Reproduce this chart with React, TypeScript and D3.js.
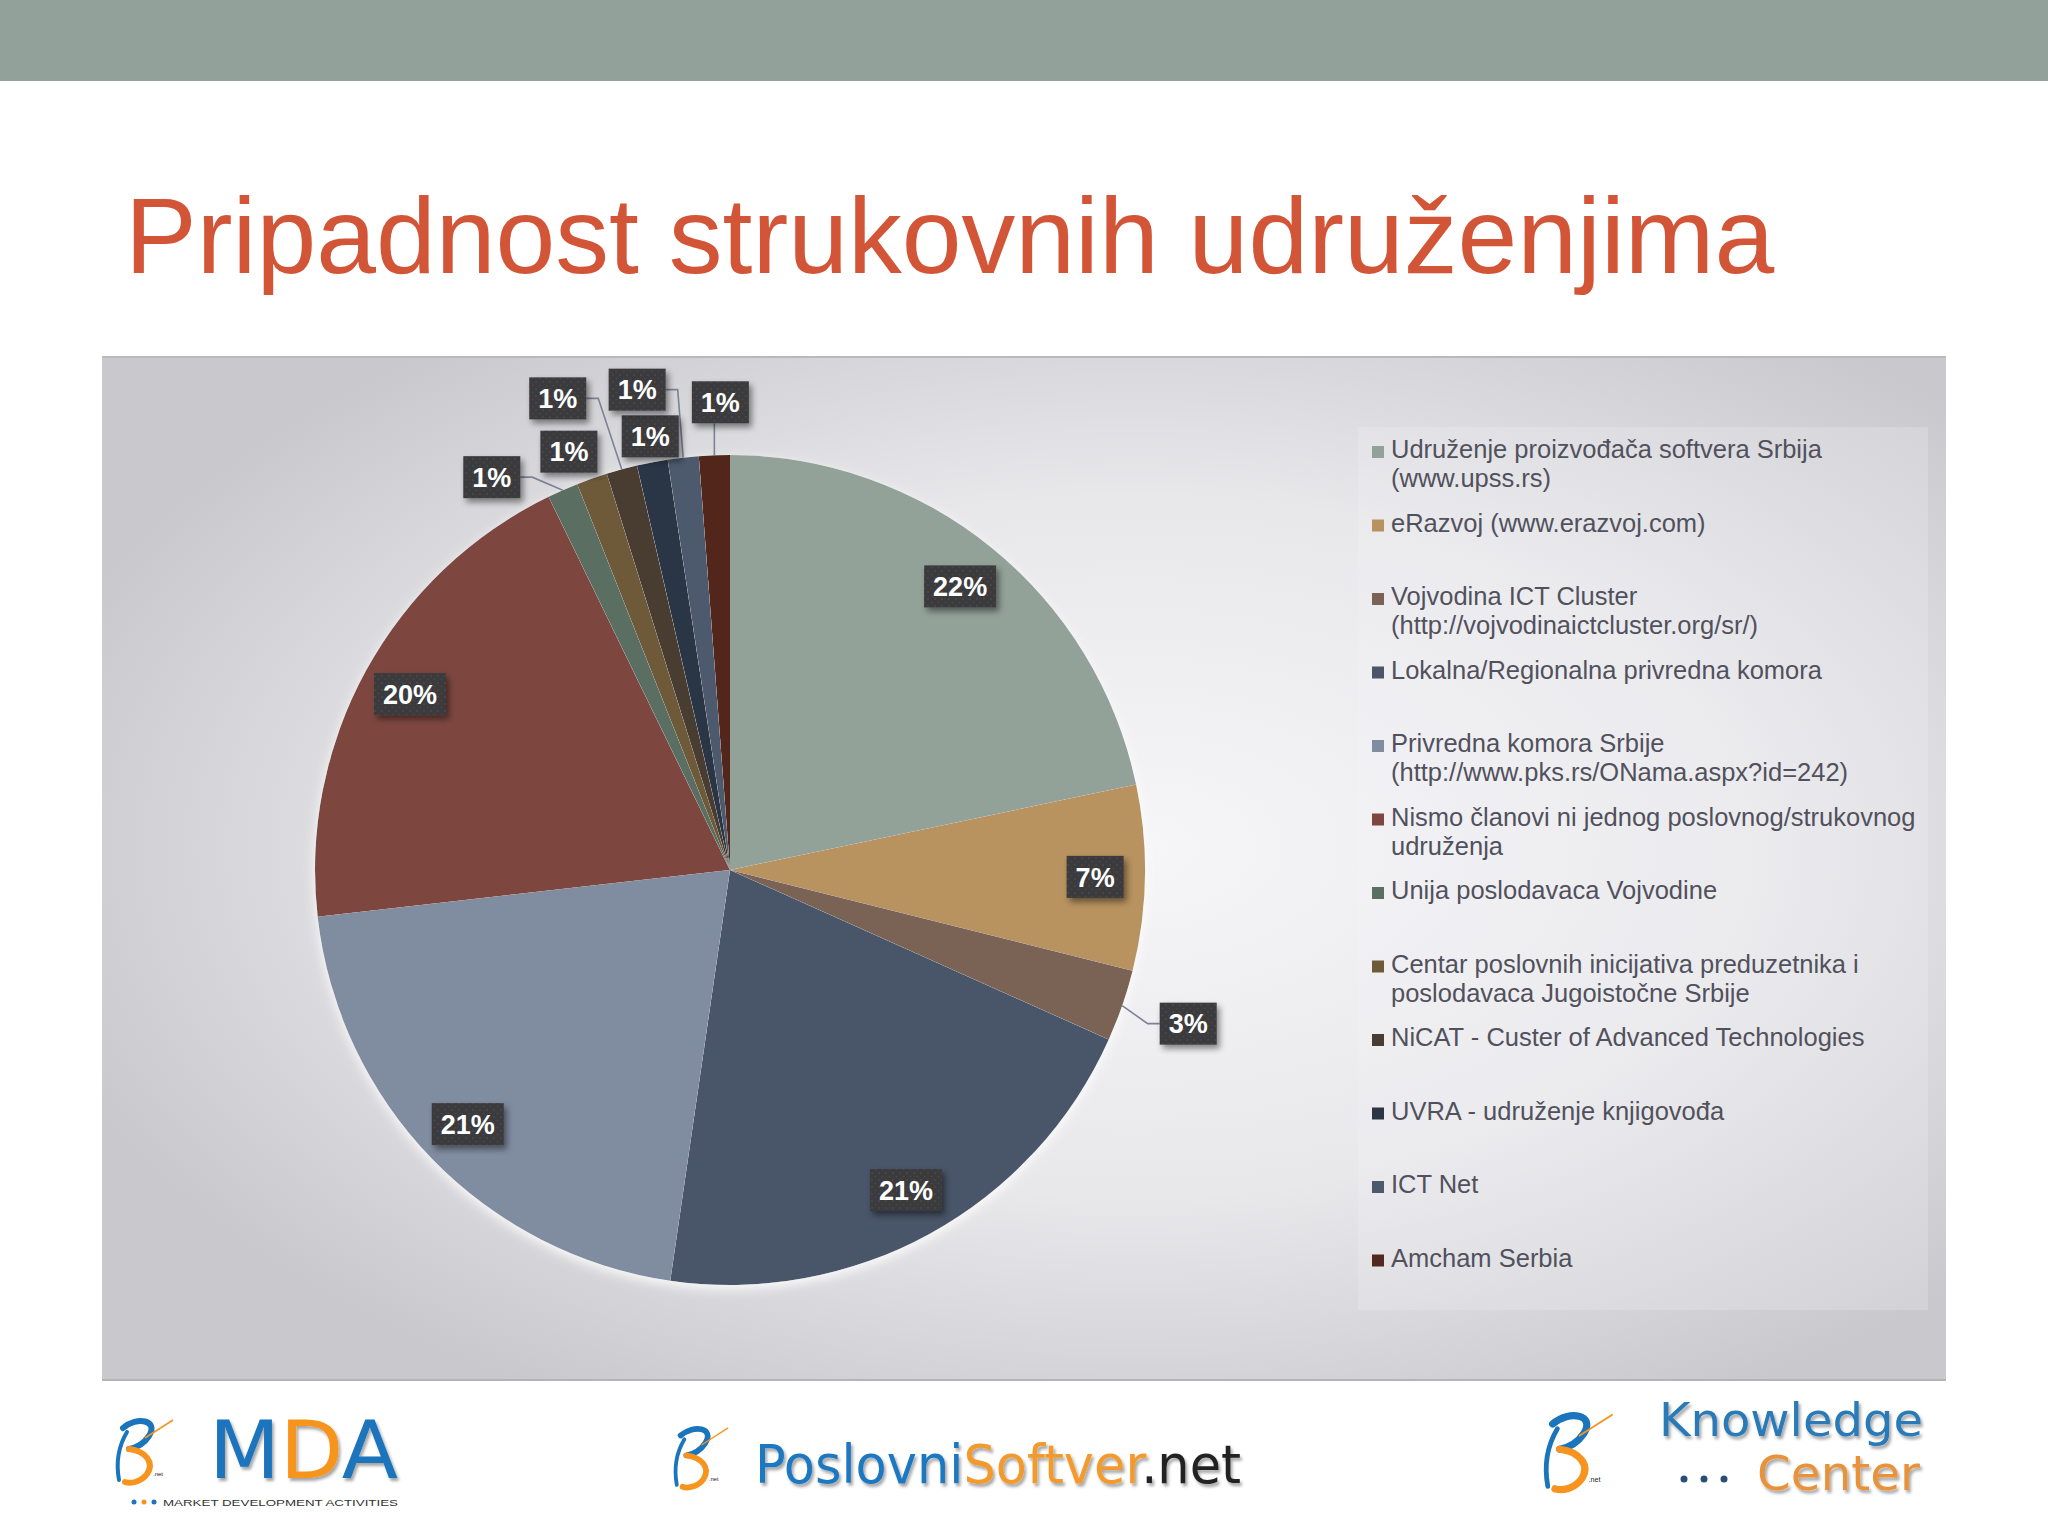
import React from "react";
import * as d3 from "d3";

const title = "Pripadnost strukovnih udruženjima";

const categories = [
  "Udruženje proizvođača softvera Srbija (www.upss.rs)",
  "eRazvoj (www.erazvoj.com)",
  "Vojvodina ICT Cluster (http://vojvodinaictcluster.org/sr/)",
  "Lokalna/Regionalna privredna komora",
  "Privredna komora Srbije (http://www.pks.rs/ONama.aspx?id=242)",
  "Nismo članovi ni jednog poslovnog/strukovnog udruženja",
  "Unija poslodavaca Vojvodine",
  "Centar poslovnih inicijativa preduzetnika i poslodavaca Jugoistočne Srbije",
  "NiCAT - Custer of Advanced Technologies",
  "UVRA - udruženje knjigovođa",
  "ICT Net",
  "Amcham Serbia",
];

const values = [21.7, 7.2, 2.8, 20.6, 20.9, 19.6, 1.2, 1.2, 1.2, 1.2, 1.2, 1.2];

const colors = [
  "#93A299", "#B8925F", "#7A6354", "#4A5569", "#808CA0", "#7D4641",
  "#5A6E62", "#6E5A38", "#483C33", "#2C3544", "#4D5A6E", "#53281F",
];

// label placement for small slices: offset of box centre from slice's outer edge point
const outsideLabelOffsets: Record<number, [number, number]> = {
  2: [66, 18],
  6: [-71, -13],
  7: [-23, -27],
  8: [-64, -71],
  9: [-2, -26],
  10: [-46, -68],
  11: [6, -53],
};

const W = 2048;
const H = 1536;
const cx = 730;
const cy = 870;
const R = 415;
const FONT = "'Liberation Sans', Arial, sans-serif";
const NARROW = "'DejaVu Sans Condensed', 'Liberation Sans Narrow', sans-serif";

let _ctx: CanvasRenderingContext2D | null = null;
function measure(text: string, font: string): number {
  if (!_ctx) {
    const c = document.createElement("canvas");
    _ctx = c.getContext("2d");
  }
  if (!_ctx) return text.length * 12;
  _ctx.font = font;
  return _ctx.measureText(text).width;
}

function wrap(text: string, maxW: number, font: string): string[] {
  const words = text.split(" ");
  const lines: string[] = [];
  let cur = "";
  for (const w of words) {
    const t = cur ? cur + " " + w : w;
    if (cur && measure(t, font) > maxW) {
      lines.push(cur);
      cur = w;
    } else cur = t;
  }
  if (cur) lines.push(cur);
  return lines;
}

function Swoosh({ x, y, s }: { x: number; y: number; s: number }) {
  return (
    <g transform={`translate(${x},${y}) scale(${s})`}>
      <path d="M8 10 C 22 -2, 44 2, 34 18 C 28 27, 20 30, 14 31" fill="none" stroke="#1B75BC" strokeWidth={6} strokeLinecap="round" />
      <path d="M14 31 C 30 33, 40 44, 32 56 C 26 64, 16 66, 10 64" fill="none" stroke="#F7941D" strokeWidth={6} strokeLinecap="round" />
      <path d="M4 62 C 0 40, 6 24, 12 14" fill="none" stroke="#1B75BC" strokeWidth={4} strokeLinecap="round" />
      <path d="M30 20 L 58 2" fill="none" stroke="#F7941D" strokeWidth={1.5} />
      <text x={38} y={58} fontSize={6} fontFamily={FONT} fill="#222">.net</text>
    </g>
  );
}

export default function App() {
  const pie = d3.pie<number>().sort(null).value((d) => d)(values);
  const arc = d3.arc<d3.PieArcDatum<number>>().innerRadius(0).outerRadius(R);
  const labelArc = d3.arc<d3.PieArcDatum<number>>().innerRadius(R * 0.88).outerRadius(R * 0.88);
  const total = d3.sum(values);

  const labelFont = `bold 27px ${FONT}`;
  const legendFont = `25.5px ${FONT}`;

  const labels = pie.map((p, i) => {
    const text = `${Math.round((p.value / total) * 100)}%`;
    const tw = measure(text, labelFont);
    const bw = tw + 18;
    const bh = 42;
    const mid = (p.startAngle + p.endAngle) / 2;
    const ex = Math.sin(mid) * R;
    const ey = -Math.cos(mid) * R;
    let lx: number, ly: number;
    let leader: string | null = null;
    const off = outsideLabelOffsets[i];
    if (off) {
      lx = ex + off[0];
      ly = ey + off[1];
      const nx = Math.max(lx - bw / 2, Math.min(ex, lx + bw / 2));
      const ny = Math.max(ly - bh / 2, Math.min(ey, ly + bh / 2));
      const dist = Math.hypot(nx - ex, ny - ey);
      if (dist > 14) {
        if (Math.abs(lx - ex) < bw / 2) {
          leader = `M${ex},${ey}L${ex},${ly + bh / 2}`;
        } else {
          const side = lx < ex ? lx + bw / 2 : lx - bw / 2;
          const elbow = lx < ex ? side + 12 : side - 12;
          leader = `M${ex},${ey}L${elbow},${ly}L${side},${ly}`;
        }
      }
    } else {
      [lx, ly] = labelArc.centroid(p);
    }
    return { text, lx, ly, bw, bh, leader };
  });

  // legend
  const legendX = 1372;
  const legendTextX = 1391;
  const legendY0 = 458;
  const legendStep = 73.5;
  const lineH = 29.4;

  return (
    <svg width={W} height={H} style={{ position: "absolute", left: 0, top: 0, background: "#fff" }} xmlns="http://www.w3.org/2000/svg">
      <defs>
        <radialGradient id="bg" cx="0.56" cy="0.48" r="0.62">
          <stop offset="0" stopColor="#f6f6f8" />
          <stop offset="0.55" stopColor="#e8e8eb" />
          <stop offset="1" stopColor="#c9c9cd" />
        </radialGradient>
        <pattern id="dots" width="7" height="7" patternUnits="userSpaceOnUse">
          <rect width="7" height="7" fill="#3b3b3d" />
          <circle cx="2" cy="2" r="0.8" fill="#4f4f52" />
          <circle cx="5.5" cy="5.5" r="0.8" fill="#4a4a4d" />
        </pattern>
        <filter id="shadow" x="-30%" y="-30%" width="160%" height="170%">
          <feDropShadow dx="3" dy="4" stdDeviation="3" floodColor="#000" floodOpacity="0.45" />
        </filter>
        <filter id="pieGlow" x="-10%" y="-10%" width="120%" height="120%">
          <feDropShadow dx="0" dy="4" stdDeviation="6" floodColor="#ffffff" floodOpacity="0.9" />
        </filter>
        <filter id="logoShadow" x="-10%" y="-10%" width="120%" height="140%">
          <feDropShadow dx="2" dy="3" stdDeviation="1.5" floodColor="#000" floodOpacity="0.35" />
        </filter>
      </defs>

      {/* top bar */}
      <rect x={0} y={0} width={W} height={81} fill="#92A29A" />

      {/* title */}
      <text x={125} y={273} fontFamily={FONT} fontSize={107.5} fill="#D35538">{title}</text>

      {/* chart area */}
      <rect x={102} y={357} width={1844} height={1023} fill="url(#bg)" />
      <rect x={1358} y={427} width={570} height={883} fill="#f7f7f9" opacity={0.22} />
      <line x1={102} x2={1946} y1={357} y2={357} stroke="#b9b9bc" strokeWidth={2} />
      <line x1={102} x2={1946} y1={1380} y2={1380} stroke="#b4b4b8" strokeWidth={2} />

      {/* pie */}
      <g transform={`translate(${cx},${cy})`}>
        <g filter="url(#pieGlow)">
          {pie.map((p, i) => (
            <path key={i} d={arc(p) || ""} fill={colors[i]} />
          ))}
        </g>
        {labels.map((l, i) =>
          l.leader ? <path key={"ld" + i} d={l.leader} fill="none" stroke="#7c8296" strokeWidth={1.6} /> : null
        )}
        {labels.map((l, i) => (
          <g key={"lb" + i}>
            <rect x={l.lx - l.bw / 2} y={l.ly - l.bh / 2} width={l.bw} height={l.bh} fill="url(#dots)" filter="url(#shadow)" />
            <text x={l.lx} y={l.ly + 9.7} textAnchor="middle" fontFamily={FONT} fontWeight="bold" fontSize={27} fill="#ffffff">
              {l.text}
            </text>
          </g>
        ))}
      </g>

      {/* legend */}
      {categories.map((c, i) => {
        const lines = wrap(c, 535, legendFont);
        const by = legendY0 + i * legendStep;
        return (
          <g key={"lg" + i}>
            <rect x={legendX} y={by - 12} width={12} height={12} fill={colors[i]} />
            <text fontFamily={FONT} fontSize={25.5} fill="#51515d">
              {lines.map((ln, j) => (
                <tspan key={j} x={legendTextX} y={by + j * lineH}>{ln}</tspan>
              ))}
            </text>
          </g>
        );
      })}

      {/* logos */}
      <g>
        <Swoosh x={115} y={1418} s={1.0} />
        <g filter="url(#logoShadow)">
          <text x={209} y={1478} fontFamily={NARROW} fontSize={80} textLength={189} lengthAdjust="spacingAndGlyphs">
            <tspan fill="#1B75BC">M</tspan>
            <tspan fill="#F7941D">D</tspan>
            <tspan fill="#1B75BC">A</tspan>
          </text>
        </g>
        <circle cx={134} cy={1502} r={2.5} fill="#1B75BC" />
        <circle cx={144} cy={1502} r={2.5} fill="#F7941D" />
        <circle cx={154} cy={1502} r={2.5} fill="#1B75BC" />
        <text x={163} y={1506} fontFamily={FONT} fontSize={8.5} fill="#333" textLength={235} lengthAdjust="spacingAndGlyphs">MARKET DEVELOPMENT ACTIVITIES</text>

        <Swoosh x={673} y={1426} s={0.95} />
        <g filter="url(#logoShadow)">
          <text x={755} y={1483} fontFamily={NARROW} fontSize={54} textLength={486} lengthAdjust="spacingAndGlyphs">
            <tspan fill="#1F78C1">Poslovni</tspan>
            <tspan fill="#F29A2E">Softver</tspan>
            <tspan fill="#222">.net</tspan>
          </text>
        </g>

        <Swoosh x={1543} y={1412} s={1.2} />
        <g filter="url(#logoShadow)">
          <text x={1659} y={1436} fontFamily={NARROW} fontSize={46} fill="#2A7AB8" textLength={264} lengthAdjust="spacingAndGlyphs">Knowledge</text>
          <text x={1757} y={1490} fontFamily={NARROW} fontSize={48} fill="#E8923A" textLength={163} lengthAdjust="spacingAndGlyphs">Center</text>
        </g>
        <circle cx={1684} cy={1479} r={3.5} fill="#2A4E7A" />
        <circle cx={1704} cy={1479} r={3.5} fill="#2A4E7A" />
        <circle cx={1724} cy={1479} r={3.5} fill="#2A4E7A" />
      </g>
    </svg>
  );
}
